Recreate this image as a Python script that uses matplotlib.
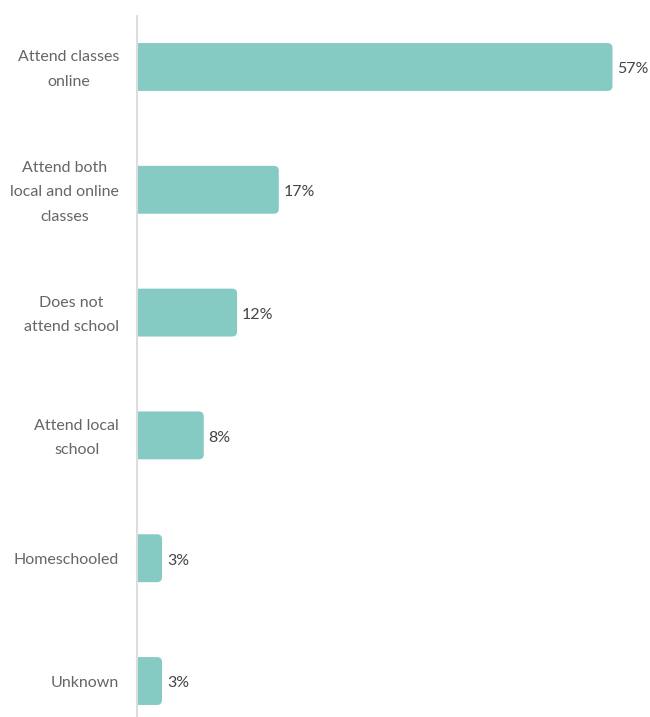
import matplotlib
matplotlib.use("Agg")
import matplotlib.pyplot as plt
import matplotlib.transforms as mtransforms
from matplotlib.patches import FancyBboxPatch

categories = [
    "Attend classes\nonline",
    "Attend both\nlocal and online\nclasses",
    "Does not\nattend school",
    "Attend local\nschool",
    "Homeschooled",
    "Unknown",
]
values = [57, 17, 12, 8, 3, 3]
value_labels = ["57%", "17%", "12%", "8%", "3%", "3%"]

bar_color = "#86cbc3"
plt.rcParams["font.family"] = ["Lato", "DejaVu Sans"]

fig = plt.figure(figsize=(6.5, 7.17), dpi=100)
ax = fig.add_axes([137 / 650, 0, 1 - 137 / 650, 1 - 16 / 717])

ax.set_xlim(0, 61.5)
ax.set_ylim(5.293, -0.415)

bar_h = 0.39
for i, v in enumerate(values):
    # start left of zero so only the right corners show rounded
    patch = FancyBboxPatch((-1, i - bar_h / 2), v + 1, bar_h,
                           boxstyle="round,pad=0,rounding_size=0.6",
                           mutation_aspect=0.066,
                           facecolor=bar_color, edgecolor="none")
    ax.add_patch(patch)
    ax.text(v + 0.6, i + 0.02, value_labels[i], va="center", ha="left",
            fontsize=11.5, color="#444444")

ax.set_yticks(range(len(categories)))
ax.set_yticklabels(categories, fontsize=11.5, color="#666666",
                   linespacing=1.95, ha="right", multialignment="center")
ax.tick_params(axis="y", length=0, pad=13)
ax.set_xticks([])

# multi-line labels sit a bit low, nudge them up
shift = mtransforms.ScaledTranslation(0, 3 / 72, fig.dpi_scale_trans)
for lbl in ax.get_yticklabels():
    if "\n" in lbl.get_text():
        lbl.set_transform(lbl.get_transform() + shift)

for side in ["top", "right", "bottom"]:
    ax.spines[side].set_visible(False)
ax.spines["left"].set_color("#dddddd")
ax.spines["left"].set_linewidth(1.5)

fig.savefig("out.png", dpi=100)
